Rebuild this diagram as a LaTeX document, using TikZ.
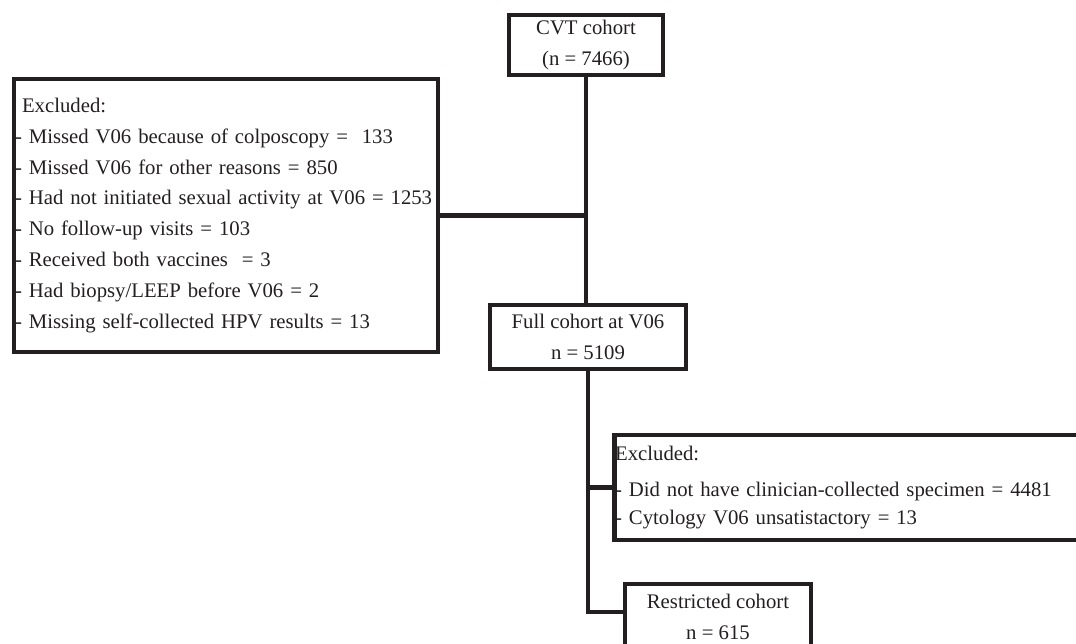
\documentclass[tikz,border=0pt]{standalone}
\usepackage{fontspec}
\setmainfont{Liberation Serif}
\usepackage{xcolor}
\definecolor{box-line}{HTML}{231F20}
\definecolor{box-text}{HTML}{231F20}

\begin{document}
\begin{tikzpicture}[x=0.02cm, y=-0.02cm,
      every node/.style={font=\fontsize{11.8}{17.6}\selectfont, text=box-text},
      cohort/.style={draw=box-line, line width=2.6pt, align=center, inner sep=0pt},
      excluded/.style={draw=box-line, line width=2.6pt, align=left,
          inner xsep=0.5pt, inner ysep=0pt},
      link/.style={draw=box-line, line width=2.6pt}]
    \useasboundingbox (0,0) rectangle (1076,644);
    \node[cohort, minimum width=3.08cm, minimum height=1.2cm]
          (CVT) at (586,45) {CVT cohort\\(n = 7466)};
    \node[excluded, text width=8.44cm, minimum height=5.46cm]
          (EX1) at (226,215.5) {\hspace*{4pt}Excluded:\\
          - Missed V06 because of colposcopy = \ 133\\
          - Missed V06 for other reasons = 850\\
          - Had not initiated sexual activity at V06 = 1253\\
          - No follow-up visits = 103\\
          - Received both vaccines \ = 3\\
          - Had biopsy/LEEP before V06 = 2\\
          - Missing self-collected HPV results = 13};
    \node[cohort, minimum width=3.92cm, minimum height=1.28cm]
          (FULL) at (588,337) {Full cohort at V06\\n = 5109};
    \node[excluded, text width=9.6cm, minimum height=2.1cm, anchor=west,
          font=\fontsize{11.8}{15.9}\selectfont]
          (EX2) at (612,487.5) {Excluded:\\[5pt]
          - Did not have clinician-collected specimen = 4481\\
          - Cytology V06 unsatistactory = 13};
    \node[cohort, minimum width=3.72cm, minimum height=1.32cm]
          (RES) at (718,617) {Restricted cohort\\n = 615};
    \draw[link] (CVT.south) -- (CVT.south |- FULL.north);
    \draw[link] (EX1.east) -- (EX1.east -| CVT.south);
    \draw[link] (FULL.south) |- (RES.west |- 0,612);
    \draw[link] (EX2.west -| FULL.south) -- (EX2.west);
  \end{tikzpicture}
\end{document}
